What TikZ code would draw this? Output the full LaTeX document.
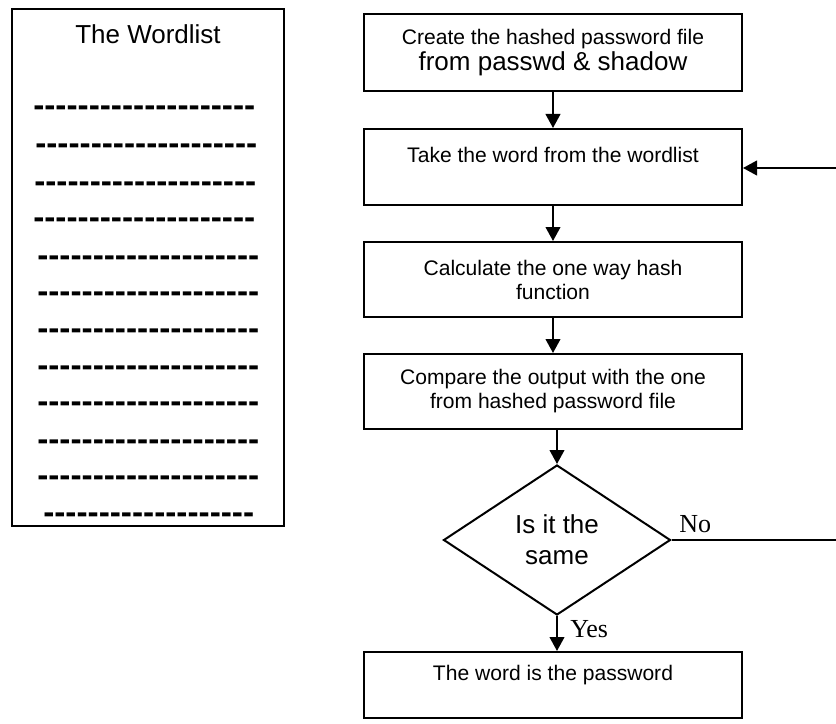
\documentclass[tikz,border=0pt]{standalone}
\usepackage{fontspec}
\setmainfont{Liberation Sans}
\newfontfamily\labelfont{Liberation Serif}
\usetikzlibrary{arrows.meta,shapes.geometric}

\newcommand\smalltext{\fontsize{15.8pt}{18pt}\selectfont}
\newcommand\bigtext{\fontsize{19.5pt}{23.25pt}\selectfont}
\newcommand\dashfont{\bfseries\fontsize{25pt}{25pt}\selectfont}
\newcommand\dashrow[1]{\foreach \k in {1,...,#1}{-{}}}

\tikzset{
  stepbox/.style={draw, line width=1.5pt, minimum width=283.5pt, inner sep=0pt, align=center, font=\smalltext},
  decision/.style={diamond, draw, line width=1.5pt, minimum width=170.25pt, minimum height=112.5pt, inner sep=0pt, align=center, font=\bigtext},
  flow/.style={line width=1.5pt, -{Triangle[length=10.5pt,width=11pt]}},
  answer/.style={font=\labelfont\fontsize{19.5pt}{23pt}\selectfont, inner sep=0pt, anchor=base west},
}

\begin{document}
\begin{tikzpicture}[x=0.75pt, y=-0.75pt]
    \useasboundingbox (0,0) rectangle (836,724);

    % Draw the word list on the left
    \node[draw, line width=1.5pt, minimum width=204pt, minimum height=387.75pt] (wordlist) at (148,267.5) {};
    \node[anchor=base, font=\bigtext] (title) at (148,44) {The Wordlist};
    \foreach \y/\x/\n [count=\i] in {108/33/20, 146/35/20, 183/34/20, 219/33/20, 257/37/20, 293/37/20,
                                     330/37/20, 367/37/20, 403/37/20, 441/37/20, 477/37/20, 514/43/19}
        \node[anchor=base west, font=\dashfont, inner sep=0pt] (row\i) at (\x,\y+9) {\dashrow{\n}};

    % Draw the steps
    \node[stepbox, minimum height=57.75pt] (create) at (553,52.5) {Create the hashed password file\\[2pt] {\bigtext from passwd \& shadow}};
    \node[stepbox, minimum height=57pt] (take) at (553,167) {Take the word from the wordlist\\ \mbox{}};
    \node[stepbox, minimum height=56.25pt] (calc) at (553,279.5) {Calculate the one way hash\\ function};
    \node[stepbox, minimum height=56.25pt] (compare) at (553,391.5) {Compare the output with the one\\ from hashed password file};
    \node[decision] (same) at (557,540) {Is it the\\ same};
    \node[stepbox, minimum height=49.5pt] (word) at (553,685) {The word is the password\\ \mbox{}};

    % Draw the arrows
    \draw[flow] (create) -- (take);
    \draw[flow] (take) -- (calc);
    \draw[flow] (calc) -- (compare);
    \draw[flow] (same.north |- compare.south) -- (same.north);
    \draw[flow] (same) -- (same |- word.north);

    % Draw the way back
    \coordinate (noend) at (836,540);
    \coordinate (backin) at (836,168);
    \draw[line width=1.5pt] (same.east) -- (noend);
    \draw[flow] (backin) -- (take.east |- backin);

    % Add labels
    \node[answer] (no) at (679,532) {No};
    \node[answer] (yes) at (570,637) {Yes};
\end{tikzpicture}
\end{document}
